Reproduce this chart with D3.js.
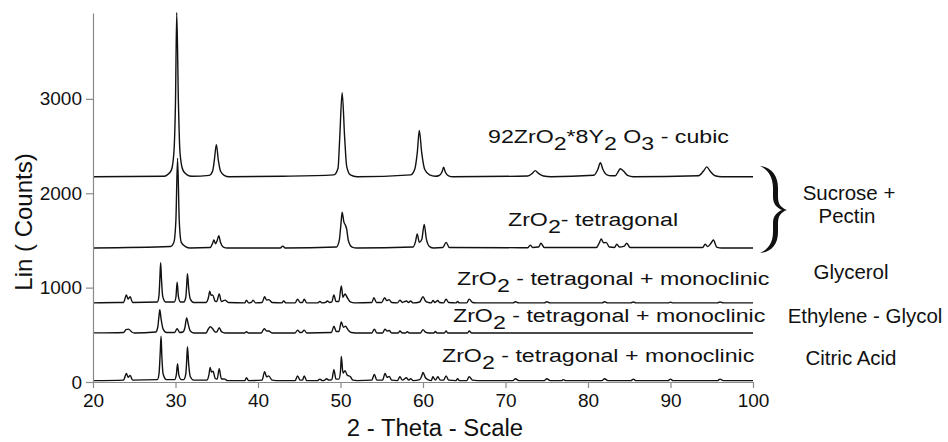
<!DOCTYPE html>
<html>
<head>
<meta charset="utf-8">
<script src="https://cdn.jsdelivr.net/npm/d3@7"></script>
<style>
  body { margin: 0; background: #fff; }
  svg { font-family: 'Liberation Sans', Arial, sans-serif; }
</style>
</head>
<body>
<div id="chart"></div>
<script>
// net intensities [2theta, counts] above each pattern's own baseline
const cubic = [[20,0],[28.6,5],[29.0,20],[29.5,70],[29.8,250],[30.0,800],[30.15,1740],[30.35,800],[30.55,250],[30.9,70],[31.4,20],[32,5],
  [34.1,15],[34.5,60],[34.7,170],[34.95,340],[35.2,170],[35.45,60],[35.9,15],[36.5,0],[43,5],
  [49.2,20],[49.7,90],[49.9,400],[50.2,890],[50.5,420],[50.75,110],[51.2,20],[52,0],
  [58.5,20],[59.0,80],[59.3,250],[59.55,490],[59.85,250],[60.2,80],[60.8,20],[61.5,5],
  [61.9,10],[62.3,50],[62.5,100],[62.7,50],[63.1,10],[63.6,0],
  [72.7,8],[73.3,40],[73.6,65],[74.0,35],[74.6,8],[75.5,0],
  [80.7,15],[81.2,80],[81.5,150],[81.8,80],[82.3,20],[82.8,10],[83.3,10],[83.7,60],[83.9,85],[84.3,60],[84.8,15],[85.5,0],
  [93.4,10],[94.0,60],[94.4,105],[94.8,60],[95.4,10],[96.2,0],[100,0]];

const tetragonal = [[20,0],[29.4,15],[29.8,60],[30.05,300],[30.25,950],[30.45,300],[30.7,60],[31.2,15],[31.8,0],
  [34.2,5],[34.5,50],[34.65,85],[34.85,45],[35.05,80],[35.25,130],[35.45,60],[35.8,10],[36.3,0],
  [42.7,0],[43.0,20],[43.3,0],
  [49.5,10],[49.85,80],[50.05,250],[50.2,380],[50.4,280],[50.6,240],[50.75,200],[50.95,80],[51.4,10],[52,0],
  [58.8,10],[59.1,70],[59.3,150],[59.55,60],[59.85,90],[60.15,250],[60.4,100],[60.8,15],[61.3,0],
  [62.4,5],[62.8,60],[63.2,5],[72.7,3],[73.0,30],[73.3,5],[74.0,10],[74.3,50],[74.7,5],
  [81.0,5],[81.35,50],[81.6,95],[81.9,55],[82.2,60],[82.6,10],[83.2,5],[83.5,40],[83.8,10],[84.4,20],[84.7,50],[85.1,5],
  [93.9,5],[94.2,40],[94.5,15],[94.9,50],[95.2,85],[95.6,10],[96.2,0],[100,0]];

const glycerol = [[20,0],[23.0,5],[23.7,5],[24.05,85],[24.25,40],[24.5,65],[24.8,5],
  [27.8,10],[28.0,80],[28.1,250],[28.2,425],[28.3,250],[28.45,70],[28.8,10],
  [29.85,10],[30.05,60],[30.2,220],[30.35,70],[30.6,10],
  [31.0,10],[31.25,60],[31.35,180],[31.45,310],[31.6,150],[31.8,40],[32.2,5],
  [33.7,5],[34.0,60],[34.15,125],[34.3,80],[34.5,85],[34.8,20],[35.0,15],[35.3,95],[35.55,15],[36.0,30],[36.4,5],
  [38.4,0],[38.6,30],[38.85,0],[39.2,5],[39.4,30],[39.7,0],[40.5,5],[40.8,65],[41.05,30],[41.3,35],[41.7,5],
  [42.9,0],[43.1,20],[43.4,0],[44.5,0],[44.8,40],[45.1,5],[45.4,5],[45.6,40],[45.9,0],
  [47.2,0],[47.5,15],[47.8,0],[48.2,5],[48.4,20],[48.7,5],[48.95,10],[49.2,85],[49.45,15],
  [49.8,15],[50.1,180],[50.3,60],[50.55,95],[50.8,60],[51.2,10],[51.7,0],
  [53.8,5],[54.05,55],[54.35,5],[55.0,5],[55.35,55],[55.6,25],[55.9,35],[56.2,5],
  [56.9,0],[57.2,30],[57.5,5],[58.0,20],[58.25,5],[58.5,20],[58.8,0],
  [59.6,10],[60.0,65],[60.3,20],[60.6,5],[61.0,0],[61.2,25],[61.45,5],[61.8,25],[62.0,5],
  [62.5,0],[62.8,40],[63.1,5],[64.0,0],[64.2,15],[64.4,0],[65.3,0],[65.6,40],[66.0,5],[66.5,0],
  [70.9,0],[71.2,12],[71.6,0],[74.7,0],[75.0,12],[75.4,0],[81.7,0],[82.0,12],[82.4,0],
  [85.2,0],[85.5,10],[85.8,0],[89.7,0],[90.0,8],[90.3,0],[95.7,0],[96.0,10],[96.4,0],[100,0]];

const ethyleneGlycol = [[20,0],[23.7,5],[24.0,35],[24.3,40],[24.7,10],[25.0,0],
  [27.6,10],[27.85,60],[28.0,180],[28.1,245],[28.25,150],[28.5,40],[28.9,5],
  [29.9,5],[30.2,45],[30.5,5],[30.9,10],[31.15,60],[31.35,160],[31.55,90],[31.8,20],[32.2,0],
  [33.7,0],[34.0,45],[34.2,65],[34.5,45],[34.8,10],[35.0,10],[35.3,55],[35.6,10],[36.0,0],
  [38.4,0],[38.6,12],[38.8,0],[40.4,0],[40.75,45],[41.05,20],[41.3,20],[41.7,0],
  [44.5,0],[44.8,30],[45.1,5],[45.3,5],[45.6,30],[45.9,0],
  [48.9,5],[49.2,70],[49.5,15],[49.8,15],[50.1,115],[50.35,60],[50.6,70],[50.9,35],[51.3,5],[51.8,0],
  [53.8,0],[54.1,40],[54.4,0],[55.1,0],[55.4,40],[55.65,20],[55.9,25],[56.2,0],
  [57.0,0],[57.2,20],[57.5,0],[57.9,0],[58.1,12],[58.3,0],[59.7,0],[60.0,35],[60.35,5],[60.7,0],
  [61.3,0],[61.5,15],[61.7,0],[62.6,0],[62.8,20],[63.0,0],[65.4,0],[65.6,20],[65.9,0],[100,0]];

const citricAcid = [[20,0],[23.7,5],[24.05,75],[24.25,35],[24.5,55],[24.8,5],
  [27.8,10],[28.0,70],[28.15,300],[28.25,470],[28.35,250],[28.5,70],[28.9,10],
  [29.9,10],[30.1,60],[30.25,180],[30.4,60],[30.7,10],
  [31.0,10],[31.25,70],[31.35,200],[31.45,360],[31.6,170],[31.8,40],[32.2,5],
  [33.8,5],[34.05,60],[34.2,140],[34.35,90],[34.55,100],[34.8,25],[35.05,15],[35.3,125],[35.55,20],[36.0,15],[36.3,0],
  [38.4,0],[38.6,30],[38.85,0],[40.5,5],[40.8,95],[41.05,40],[41.3,50],[41.7,5],[42.2,0],
  [44.5,0],[44.8,50],[45.1,5],[45.4,5],[45.6,50],[45.9,0],
  [47.2,0],[47.5,15],[47.8,0],[48.1,5],[48.3,20],[48.6,5],[48.95,10],[49.2,115],[49.45,15],
  [49.8,15],[50.0,100],[50.1,255],[50.3,80],[50.55,105],[50.8,60],[51.2,40],[51.5,5],[52,0],
  [53.8,5],[54.1,65],[54.4,5],[55.1,5],[55.4,75],[55.65,35],[55.9,45],[56.2,5],
  [56.9,0],[57.2,40],[57.5,5],[58.0,30],[58.25,5],[58.5,20],[58.8,0],
  [59.6,10],[59.85,50],[60.0,85],[60.3,30],[60.6,10],[61.0,0],[61.2,40],[61.5,5],[61.8,40],[62.1,5],
  [62.5,5],[62.8,50],[63.1,5],[64.0,0],[64.2,20],[64.4,0],[65.3,0],[65.6,40],[66.0,5],[66.6,0],
  [70.9,0],[71.2,20],[71.6,0],[74.7,0],[75.0,20],[75.4,0],[76.8,0],[77.0,10],[77.3,0],
  [81.7,0],[82.0,20],[82.4,0],[85.2,0],[85.5,15],[85.8,0],[89.7,0],[90.0,15],[90.3,0],[95.7,0],[96.0,15],[96.4,0],[100,0]];

const patterns = [cubic, tetragonal, glycerol, ethyleneGlycol, citricAcid];
const offsets = [2175, 1420, 838, 520, 15];

const xTicks = [20, 30, 40, 50, 60, 70, 80, 90, 100];
const yTicks = [0, 1000, 2000, 3000];

const width = 948, height = 442;
const margin = { top: 13, right: 195, bottom: 60, left: 93 };

const svg = d3.select('#chart')
  .append('svg')
    .attr('width', width)
    .attr('height', height);

const x = d3.scaleLinear()
  .domain([20, 100])
  .range([margin.left, width - margin.right]);

const y = d3.scaleLinear()
  .domain([0, 3910])
  .range([height - margin.bottom, margin.top]);

const line = d3.line()
  .x(d => x(d[0]))
  .y(d => y(d[1]))
  .curve(d3.curveMonotoneX);

// draw bottom patterns first so the cubic one sits on top
patterns.map((p, i) => ({ p, off: offsets[i] })).reverse().forEach(({ p, off }) => {
  svg.append('path')
    .datum(p.map(d => [d[0], d[1] + off]))
    .attr('fill', 'none')
    .attr('stroke', '#111')
    .attr('stroke-width', 1.4)
    .attr('stroke-linejoin', 'round')
    .attr('d', line);
});

const xAxis = svg.append('g')
  .attr('transform', `translate(0,${height - margin.bottom})`)
  .call(d3.axisBottom(x).tickValues(xTicks).tickSize(6).tickSizeOuter(0).tickPadding(6));

const yAxis = svg.append('g')
  .attr('transform', `translate(${margin.left},0)`)
  .call(d3.axisLeft(y).tickValues(yTicks).tickFormat(d3.format('d'))
    .tickSize(7).tickSizeOuter(0).tickPadding(4));

[xAxis, yAxis].forEach(g => {
  g.select('.domain').attr('stroke', '#8a8a8a').attr('stroke-width', 1.2);
  g.selectAll('.tick line').attr('stroke', '#8a8a8a').attr('stroke-width', 1.2);
  g.selectAll('.tick text')
    .attr('fill', '#111')
    .attr('font-size', 19)
    .attr('font-family', "'Liberation Sans', Arial, sans-serif");
});

svg.append('text')
  .attr('transform', 'translate(32,222) rotate(-90)')
  .attr('text-anchor', 'middle')
  .attr('font-size', 24)
  .attr('fill', '#111')
  .text('Lin ( Counts)');

svg.append('text')
  .attr('transform', 'translate(435,436) scale(1.04,1)')
  .attr('text-anchor', 'middle')
  .attr('font-size', 23)
  .attr('fill', '#111')
  .text('2 - Theta - Scale');

// phase labels, pieces with sub=true are subscripts
const phaseLabels = [
  { x: 488, y: 143, parts: [['92ZrO'], ['2', true], ['*8Y'], ['2', true], [' O'], ['3', true], [' - cubic']] },
  { x: 508, y: 226, parts: [['ZrO'], ['2', true], ['- tetragonal']] },
  { x: 457, y: 285, parts: [['ZrO'], ['2', true], [' - tetragonal + monoclinic']] },
  { x: 453, y: 322, parts: [['ZrO'], ['2', true], [' - tetragonal + monoclinic']] },
  { x: 442, y: 362, parts: [['ZrO'], ['2', true], [' - tetragonal + monoclinic']] },
];

phaseLabels.forEach(l => {
  const t = svg.append('text')
    .attr('transform', `translate(${l.x},${l.y}) scale(1.22,1)`)
    .attr('font-size', 19)
    .attr('fill', '#111')
    .attr('xml:space', 'preserve')
    .style('white-space', 'pre');
  let down = false;
  l.parts.forEach(([s, sub]) => {
    const span = t.append('tspan').text(s);
    if (sub && !down) { span.attr('dy', 7); down = true; }
    else if (!sub && down) { span.attr('dy', -7); down = false; }
  });
});

// precursor names on the right
const precursorLabels = [
  { x: 849, y: 200, text: 'Sucrose +' },
  { x: 847, y: 223, text: 'Pectin' },
  { x: 851, y: 279, text: 'Glycerol' },
  { x: 865, y: 323, text: 'Ethylene - Glycol' },
  { x: 851, y: 365, text: 'Citric Acid' },
];

svg.selectAll('.prec')
  .data(precursorLabels)
  .enter().append('text')
    .attr('class', 'prec')
    .attr('transform', d => `translate(${d.x},${d.y}) scale(1.05,1)`)
    .attr('text-anchor', 'middle')
    .attr('font-size', 19.5)
    .attr('fill', '#111')
    .text(d => d.text);

// curly brace grouping the two sucrose + pectin patterns
svg.append('path')
  .attr('fill', '#111')
  .attr('d', 'M760,166 C771,167 778,175 778,188 L778,197 C778,204 781,208 787,210 ' +
    'C781,212 778,216 778,223 L778,232 C778,245 771,252 760,253 ' +
    'C767,250 773,244 773,232 L773,223 C773,216 777,212 782,210 ' +
    'C777,208 773,204 773,197 L773,188 C773,176 767,169 760,166 Z');
</script>
</body>
</html>
